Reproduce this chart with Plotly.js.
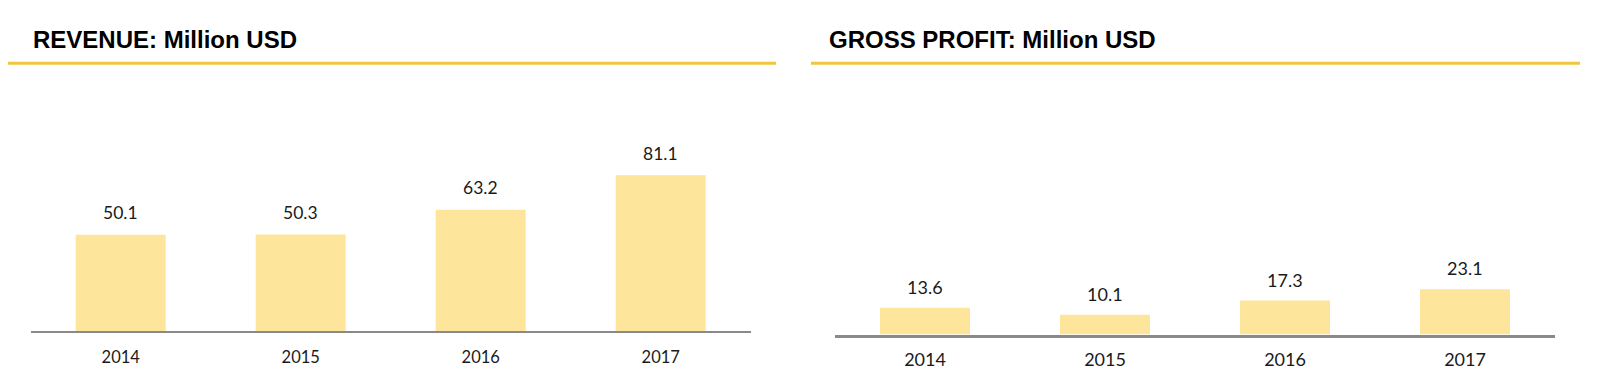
<!DOCTYPE html>
<html>
<head>
<meta charset="utf-8">
<script src="https://cdn.plot.ly/plotly-3.0.1.min.js"></script>
<style>html,body{margin:0;padding:0;background:#fff}#chart{width:1600px;height:389px}</style>
</head>
<body>
<div id="chart"></div>
<script>
const years = ['2014', '2015', '2016', '2017'];
const revenue = [50.1, 50.3, 63.2, 81.1];
const grossProfit = [13.6, 10.1, 17.3, 23.1];
const titles = ['REVENUE: Million USD', 'GROSS PROFIT: Million USD'];

const W = 1600, H = 389;
const px = v => v / W;
const py = v => 1 - v / H;

const barColor = '#FDE59B';
const gold = '#F2C63A';

const traces = [
  {type: 'bar', x: years, y: revenue, xaxis: 'x', yaxis: 'y', width: 0.5,
   marker: {color: barColor}, hoverinfo: 'skip'},
  {type: 'bar', x: years, y: grossProfit, xaxis: 'x2', yaxis: 'y2', width: 0.5,
   marker: {color: barColor}, hoverinfo: 'skip'}
];

const annotations = [];
years.forEach((yr, i) => {
  annotations.push({x: i, y: revenue[i], xref: 'x', yref: 'y', text: revenue[i].toFixed(1),
    showarrow: false, yanchor: 'middle', yshift: 22,
    font: {family: 'Lato, sans-serif', size: 17.5, color: '#1a1a1a'}});
  annotations.push({x: i, y: grossProfit[i], xref: 'x2', yref: 'y2', text: grossProfit[i].toFixed(1),
    showarrow: false, yanchor: 'middle', yshift: 21,
    font: {family: 'Lato, sans-serif', size: 18, color: '#1a1a1a'}});
});
annotations.push({x: px(31), y: py(39.5), xref: 'paper', yref: 'paper', xanchor: 'left', yanchor: 'middle',
  text: '<b>' + titles[0] + '</b>', showarrow: false,
  font: {family: 'Liberation Sans, Arial, sans-serif', size: 24, color: '#000'}});
annotations.push({x: px(827), y: py(39.5), xref: 'paper', yref: 'paper', xanchor: 'left', yanchor: 'middle',
  text: '<b>' + titles[1] + '</b>', showarrow: false,
  font: {family: 'Liberation Sans, Arial, sans-serif', size: 24, color: '#000'}});

const hiddenY = {showline: false, showticklabels: false, ticks: '', showgrid: false, zeroline: false, fixedrange: true};

const layout = {
  width: W, height: H,
  margin: {l: 0, r: 0, t: 0, b: 0},
  paper_bgcolor: '#fff', plot_bgcolor: 'rgba(0,0,0,0)',
  showlegend: false,
  xaxis: {domain: [px(30.7), px(750.7)], anchor: 'y', type: 'category', range: [-0.5, 3.5],
    showline: true, linecolor: '#8a8a8a', linewidth: 1.5, showgrid: false, zeroline: false,
    ticks: '', ticklabelstandoff: 11, fixedrange: true,
    tickfont: {family: 'Lato, sans-serif', size: 16.5, color: '#1a1a1a'}},
  yaxis: Object.assign({domain: [py(331), py(80)], anchor: 'x', range: [0, 251 / 1.92]}, hiddenY),
  xaxis2: {domain: [px(835), px(1555)], anchor: 'y2', type: 'category', range: [-0.5, 3.5],
    showline: true, linecolor: '#8a8a8a', linewidth: 3, showgrid: false, zeroline: false,
    ticks: '', ticklabelstandoff: 7, fixedrange: true,
    tickfont: {family: 'Lato, sans-serif', size: 18, color: '#1a1a1a'}},
  yaxis2: Object.assign({domain: [py(334.5), py(80)], anchor: 'x2', range: [0, 254.5 / 1.96]}, hiddenY),
  shapes: [
    {type: 'line', xref: 'paper', yref: 'paper', x0: px(8), x1: px(776), y0: py(63.3), y1: py(63.3),
     line: {color: gold, width: 3}},
    {type: 'line', xref: 'paper', yref: 'paper', x0: px(811), x1: px(1580), y0: py(63.3), y1: py(63.3),
     line: {color: gold, width: 3}}
  ],
  annotations: annotations
};

Plotly.newPlot('chart', traces, layout, {displayModeBar: false, staticPlot: true});
</script>
</body>
</html>
